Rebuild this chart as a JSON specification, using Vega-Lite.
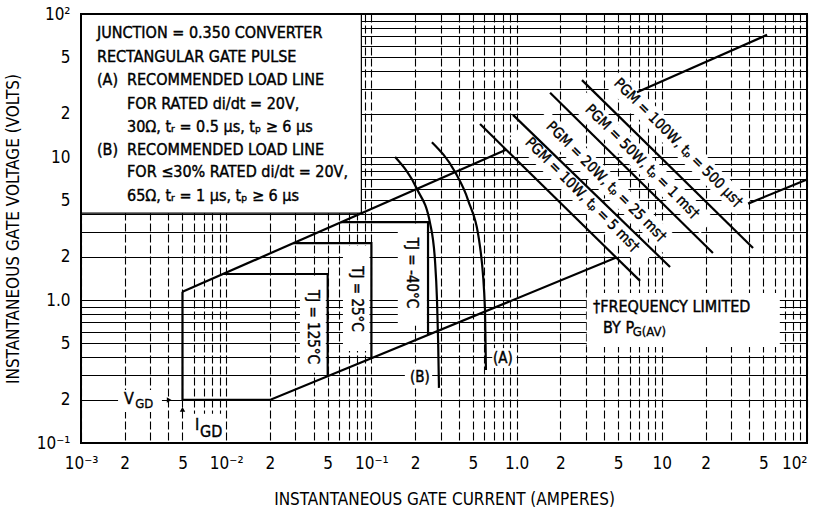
{
  "$schema": "https://vega.github.io/schema/vega-lite/v6.json",
  "width": 726,
  "height": 429,
  "autosize": "none",
  "padding": {"left": 81, "top": 14, "right": 14, "bottom": 74},
  "background": "white",
  "config": {
    "font": "Liberation Sans Narrow, DejaVu Sans Condensed, Roboto, sans-serif",
    "view": {"stroke": null}
  },
  "datasets": {
    "rects": [
      {"x": 3.04, "x2": 65, "y": 0.47, "y2": 1.12},
      {"x": 0.0322, "x2": 0.0485, "y": 0.31, "y2": 1.45},
      {"x": 0.0637, "x2": 0.097, "y": 0.44, "y2": 2.4},
      {"x": 0.152, "x2": 0.241, "y": 0.66, "y2": 3.4},
      {"x": 0.0018, "x2": 0.00361, "y": 0.165, "y2": 0.235},
      {"x": 0.00528, "x2": 0.00966, "y": 0.1, "y2": 0.16},
      {"x": 0.68, "x2": 1.0, "y": 0.334, "y2": 0.461},
      {"x": 0.17, "x2": 0.262, "y": 0.243, "y2": 0.345}
    ],
    "legendbox": [{"x": 0.001, "x2": 0.0853, "y": 4.05, "y2": 100}],
    "frame": [{"x": 0.001, "x2": 100, "y": 0.1, "y2": 100}],
    "strips": [
      {"id": "s10", "o": 1, "x": 1.001, "y": 15.28},
      {"id": "s10", "o": 2, "x": 7.95, "y": 1.923},
      {"id": "s20", "o": 1, "x": 1.465, "y": 18.84},
      {"id": "s20", "o": 2, "x": 11.63, "y": 2.371},
      {"id": "s50", "o": 1, "x": 2.592, "y": 26.0},
      {"id": "s50", "o": 2, "x": 20.59, "y": 3.273},
      {"id": "s100", "o": 1, "x": 4.587, "y": 35.3},
      {"id": "s100", "o": 2, "x": 36.45, "y": 4.446}
    ],
    "lines": [
      {"id": "A1", "o": 1, "x": 0.005, "y": 1.14},
      {"id": "A1", "o": 2, "x": 0.846, "y": 11.25},
      {"id": "A2", "o": 1, "x": 6.75, "y": 28.4},
      {"id": "A2", "o": 2, "x": 53.1, "y": 71.5},
      {"id": "B1", "o": 1, "x": 0.005, "y": 1.14},
      {"id": "B1", "o": 2, "x": 0.005, "y": 0.2},
      {"id": "B1", "o": 3, "x": 0.02, "y": 0.2},
      {"id": "B1", "o": 4, "x": 4.86, "y": 1.98},
      {"id": "B2", "o": 1, "x": 39.3, "y": 4.72},
      {"id": "B2", "o": 2, "x": 100, "y": 6.97},
      {"id": "T125", "o": 1, "x": 0.00953, "y": 1.52},
      {"id": "T125", "o": 2, "x": 0.05, "y": 1.52},
      {"id": "T125", "o": 3, "x": 0.05, "y": 0.293},
      {"id": "T25", "o": 1, "x": 0.029, "y": 2.5},
      {"id": "T25", "o": 2, "x": 0.1, "y": 2.5},
      {"id": "T25", "o": 3, "x": 0.1, "y": 0.391},
      {"id": "T40", "o": 1, "x": 0.0617, "y": 3.5},
      {"id": "T40", "o": 2, "x": 0.2455, "y": 3.5},
      {"id": "T40", "o": 3, "x": 0.2455, "y": 0.569},
      {"id": "P10", "o": 1, "x": 0.56, "y": 17.0},
      {"id": "P10", "o": 2, "x": 7.08, "y": 1.36},
      {"id": "P20", "o": 1, "x": 0.944, "y": 19.7},
      {"id": "P20", "o": 2, "x": 11.4, "y": 1.7},
      {"id": "P50", "o": 1, "x": 1.7, "y": 28.1},
      {"id": "P50", "o": 2, "x": 22.5, "y": 2.13},
      {"id": "P100", "o": 1, "x": 2.82, "y": 34.5},
      {"id": "P100", "o": 2, "x": 42.5, "y": 2.31}
    ],
    "curves": [
      {"id": "B", "o": 1, "x": 0.1456, "y": 10},
      {"id": "B", "o": 2, "x": 0.206, "y": 5.97},
      {"id": "B", "o": 3, "x": 0.2535, "y": 3.45},
      {"id": "B", "o": 4, "x": 0.274, "y": 1.9},
      {"id": "B", "o": 5, "x": 0.283, "y": 1.0},
      {"id": "B", "o": 6, "x": 0.288, "y": 0.525},
      {"id": "B", "o": 7, "x": 0.292, "y": 0.243},
      {"id": "A", "o": 1, "x": 0.261, "y": 12.7},
      {"id": "A", "o": 2, "x": 0.377, "y": 7.85},
      {"id": "A", "o": 3, "x": 0.463, "y": 5.0},
      {"id": "A", "o": 4, "x": 0.56, "y": 2.35},
      {"id": "A", "o": 5, "x": 0.606, "y": 0.85},
      {"id": "A", "o": 6, "x": 0.615, "y": 0.324}
    ],
    "arrowR": [{"x": 0.00405, "y": 0.2}],
    "arrowU": [{"x": 0.005, "y": 0.172}],
    "texts": [
      {"t": "JUNCTION = 0.350 CONVERTER", "x": 0.001288, "y": 73.6},
      {"t": "RECTANGULAR GATE PULSE", "x": 0.001288, "y": 50.0},
      {"t": "(A)", "x": 0.001288, "y": 34.5},
      {"t": "RECOMMENDED LOAD LINE", "x": 0.002075, "y": 34.5},
      {"t": "FOR RATED di/dt = 20V,", "x": 0.002075, "y": 23.5},
      {"t": "30Ω, tᵣ = 0.5 μs, tₚ ≥ 6 μs", "x": 0.002075, "y": 16.2},
      {"t": "(B)", "x": 0.001288, "y": 11.2},
      {"t": "RECOMMENDED LOAD LINE", "x": 0.002075, "y": 11.2},
      {"t": "FOR ≤30% RATED di/dt = 20V,", "x": 0.002075, "y": 7.85},
      {"t": "65Ω, tᵣ = 1 μs, tₚ ≥ 6 μs", "x": 0.002075, "y": 5.33},
      {"t": "†FREQUENCY LIMITED", "x": 3.36, "y": 0.893},
      {"t": "BY P", "x": 3.94, "y": 0.637},
      {"t": "V", "x": 0.001977, "y": 0.203},
      {"t": "I", "x": 0.0061, "y": 0.134},
      {"t": "GD", "x": 0.0066, "y": 0.119}
    ],
    "subs": [
      {"t": "G(AV)", "x": 6.3, "y": 0.6},
      {"t": "GD", "x": 0.00236, "y": 0.186}
    ],
    "tj": [
      {"t": "TJ = 125°C", "x": 0.0396, "y": 0.647},
      {"t": "TJ = 25°C", "x": 0.0796, "y": 1.016},
      {"t": "TJ = -40°C", "x": 0.1905, "y": 1.546}
    ],
    "pgm": [
      {"t": "PGM = 10W, tₚ = 5 ms†", "x": 2.82, "y": 5.42},
      {"t": "PGM = 20W, tₚ = 25 ms†", "x": 4.13, "y": 6.68},
      {"t": "PGM = 50W, tₚ = 1 ms†", "x": 7.31, "y": 9.23},
      {"t": "PGM = 100W, tₚ = 500 μs†", "x": 12.93, "y": 12.5}
    ],
    "ab": [
      {"t": "(A)", "x": 0.805, "y": 0.393},
      {"t": "(B)", "x": 0.216, "y": 0.29}
    ]
  },
  "encoding": {
    "x": {
      "field": "x", "type": "quantitative",
      "scale": {"type": "log", "domain": [0.001, 100], "nice": false},
      "axis": {
        "title": "INSTANTANEOUS GATE CURRENT (AMPERES)",
        "titleFontSize": 17, "titleFontWeight": "normal", "titleColor": "black", "titlePadding": 20,
        "values": [0.001,0.002,0.003,0.004,0.005,0.006,0.007,0.008,0.009,0.01,0.02,0.03,0.04,0.05,0.06,0.07,0.08,0.09,0.1,0.2,0.3,0.4,0.5,0.6,0.7,0.8,0.9,1,2,3,4,5,6,7,8,9,10,20,30,40,50,60,70,80,90,100],
        "labelExpr": "datum.value==0.001?'10⁻³':datum.value==0.01?'10⁻²':datum.value==0.1?'10⁻¹':datum.value==1?'1.0':datum.value==10?'10':datum.value==100?'10²':(round(datum.value/pow(10,floor(log(datum.value)/LN10+1e-9)))==2?'2':round(datum.value/pow(10,floor(log(datum.value)/LN10+1e-9)))==5?'5':'')",
        "labelFontSize": 17, "labelColor": "black", "labelPadding": 12, "labelOverlap": false, "labelFlush": false,
        "labelAlign": {"condition": {"test": "datum.value >= 100", "value": "right"}, "value": "center"},
        "ticks": false, "domain": false,
        "grid": true, "gridColor": "black", "gridOpacity": 1, "gridWidth": 1.1, "gridDash": [8, 3]
      }
    },
    "y": {
      "field": "y", "type": "quantitative",
      "scale": {"type": "log", "domain": [0.1, 100], "nice": false},
      "axis": {
        "title": "INSTANTANEOUS GATE VOLTAGE (VOLTS)",
        "titleFontSize": 17, "titleFontWeight": "normal", "titleColor": "black", "titlePadding": 14,
        "values": [0.1,0.2,0.3,0.4,0.5,0.6,0.7,0.8,0.9,1,2,3,4,5,6,7,8,9,10,20,30,40,50,60,70,80,90,100],
        "labelExpr": "datum.value==0.1?'10⁻¹':datum.value==1?'1.0':datum.value==10?'10':datum.value==100?'10²':(round(datum.value/pow(10,floor(log(datum.value)/LN10+1e-9)))==2?'2':round(datum.value/pow(10,floor(log(datum.value)/LN10+1e-9)))==5?'5':'')",
        "labelFontSize": 17, "labelColor": "black", "labelPadding": 11, "labelOverlap": false,
        "ticks": false, "domain": false,
        "grid": true, "gridColor": "black", "gridOpacity": 1, "gridWidth": 1.1
      }
    }
  },
  "layer": [
    {"data": {"name": "rects"}, "mark": {"type": "rect", "fill": "white", "strokeWidth": 0},
     "encoding": {"x2": {"field": "x2"}, "y2": {"field": "y2"}}},
    {"data": {"name": "legendbox"}, "mark": {"type": "rect", "fill": "white", "stroke": "black", "strokeWidth": 1.2},
     "encoding": {"x2": {"field": "x2"}, "y2": {"field": "y2"}}},
    {"data": {"name": "strips"}, "mark": {"type": "line", "color": "white", "strokeWidth": 21, "strokeCap": "butt"},
     "encoding": {"detail": {"field": "id"}, "order": {"field": "o"}}},
    {"data": {"name": "lines"}, "mark": {"type": "line", "color": "black", "strokeWidth": 2.2},
     "encoding": {"detail": {"field": "id"}, "order": {"field": "o"}}},
    {"data": {"name": "curves"}, "mark": {"type": "line", "color": "black", "strokeWidth": 2.2, "interpolate": "monotone"},
     "encoding": {"detail": {"field": "id"}, "order": {"field": "o"}}},
    {"data": {"name": "arrowR"}, "mark": {"type": "point", "shape": "triangle-right", "filled": true, "color": "black", "size": 30, "opacity": 1}},
    {"data": {"name": "arrowU"}, "mark": {"type": "point", "shape": "triangle-up", "filled": true, "color": "black", "size": 30, "opacity": 1}},
    {"data": {"name": "texts"}, "mark": {"type": "text", "align": "left", "baseline": "middle", "fontSize": 16, "color": "black", "stroke": "black", "strokeWidth": 0.4},
     "encoding": {"text": {"field": "t"}}},
    {"data": {"name": "subs"}, "mark": {"type": "text", "align": "left", "baseline": "middle", "fontSize": 13, "color": "black", "stroke": "black", "strokeWidth": 0.3},
     "encoding": {"text": {"field": "t"}}},
    {"data": {"name": "tj"}, "mark": {"type": "text", "align": "center", "baseline": "middle", "fontSize": 15, "angle": 90, "color": "black", "stroke": "black", "strokeWidth": 0.4},
     "encoding": {"text": {"field": "t"}}},
    {"data": {"name": "pgm"}, "mark": {"type": "text", "align": "center", "baseline": "middle", "fontSize": 14.5, "angle": 45, "color": "black", "stroke": "black", "strokeWidth": 0.4},
     "encoding": {"text": {"field": "t"}}},
    {"data": {"name": "ab"}, "mark": {"type": "text", "align": "center", "baseline": "middle", "fontSize": 15, "color": "black", "stroke": "black", "strokeWidth": 0.4},
     "encoding": {"text": {"field": "t"}}},
    {"data": {"name": "frame"}, "mark": {"type": "rect", "fill": null, "fillOpacity": 0, "stroke": "black", "strokeWidth": 2},
     "encoding": {"x2": {"field": "x2"}, "y2": {"field": "y2"}}}
  ]
}
